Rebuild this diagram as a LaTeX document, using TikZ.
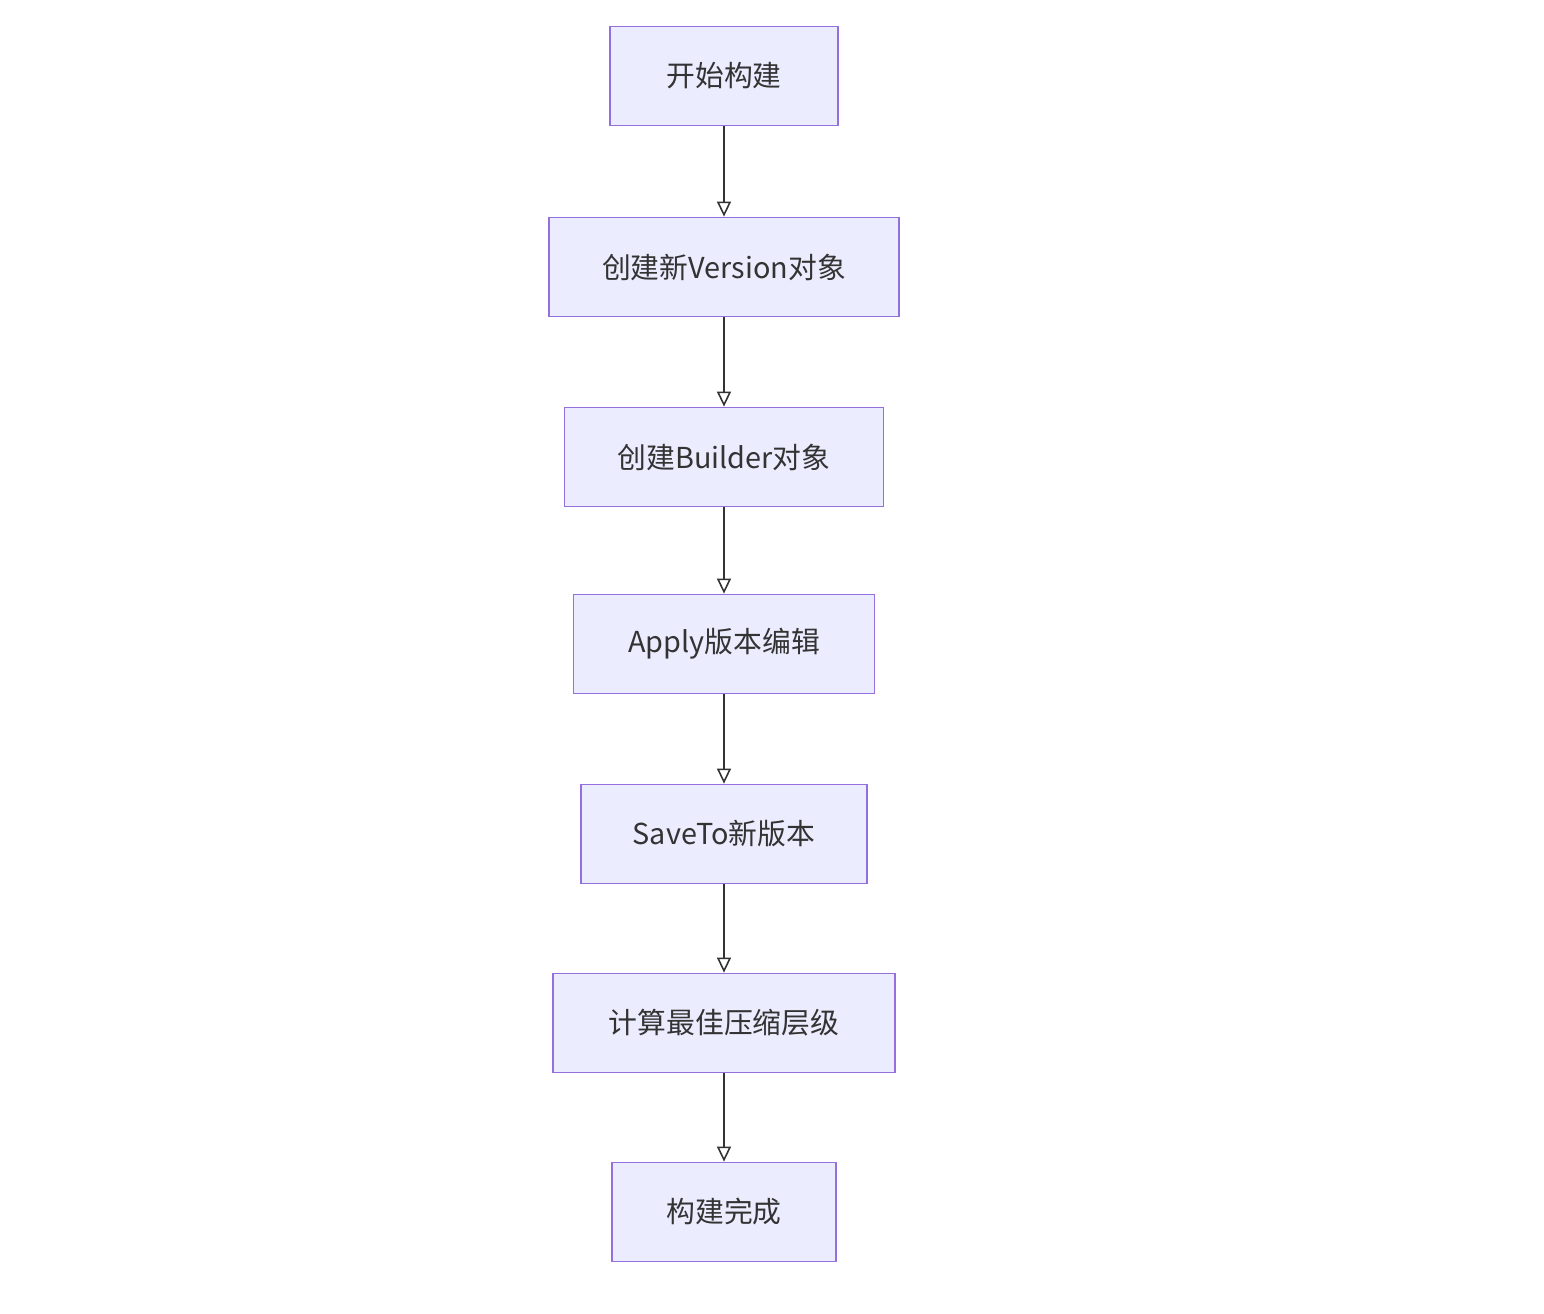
\documentclass[tikz,border=0pt]{standalone}
\usepackage{fontspec}
\setmainfont{Noto Sans CJK SC}
\usepackage{xcolor}
\usetikzlibrary{arrows.meta,positioning}
\definecolor{boxfill}{HTML}{ECECFF}
\definecolor{boxline}{HTML}{9370DB}
\definecolor{arrowc}{HTML}{333333}

\begin{document}
\begin{tikzpicture}[>={Triangle[open,length=3mm,width=2.8mm]},
  font=\fontsize{16.4}{20}\selectfont,
  stepbox/.style={draw=boxline,line width=1pt,fill=boxfill,minimum height=1.98cm,
    inner sep=0pt,text=arrowc},
  flow/.style={->,draw=arrowc,line width=0.9pt}]
 \useasboundingbox (0,0) rectangle (30.88,-26.28);
 % build steps
 \node[stepbox,minimum width=4.56cm] (start) at (14.48,-1.52) {开始构建};
 \node[stepbox,minimum width=7.0cm] (newver) at (14.48,-5.34) {创建新Version对象};
 \node[stepbox,minimum width=6.38cm] (builder) at (14.48,-9.14) {创建Builder对象};
 \node[stepbox,minimum width=6.02cm] (apply) at (14.48,-12.88) {Apply版本编辑};
 \node[stepbox,minimum width=5.72cm] (save) at (14.48,-16.68) {SaveTo新版本};
 \node[stepbox,minimum width=6.84cm] (level) at (14.48,-20.46) {计算最佳压缩层级};
 \node[stepbox,minimum width=4.48cm] (done) at (14.48,-24.24) {构建完成};
 % arrows
 \draw[flow] (start) -- (newver);
 \draw[flow] (newver) -- (builder);
 \draw[flow] (builder) -- (apply);
 \draw[flow] (apply) -- (save);
 \draw[flow] (save) -- (level);
 \draw[flow] (level) -- (done);
\end{tikzpicture}
\end{document}
